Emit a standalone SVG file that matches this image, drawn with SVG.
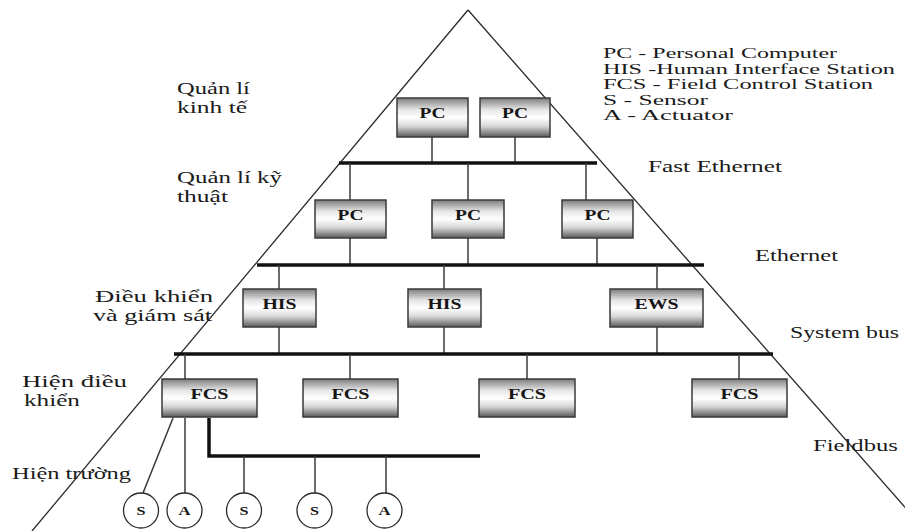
<svg xmlns="http://www.w3.org/2000/svg" width="905" height="531" viewBox="0 0 905 531">
<defs>
<linearGradient id="g" x1="0" y1="0" x2="0" y2="1">
<stop offset="0" stop-color="#7c7c7c"/>
<stop offset="0.3" stop-color="#e6e6e6"/>
<stop offset="0.5" stop-color="#ffffff"/>
<stop offset="0.72" stop-color="#d8d8d8"/>
<stop offset="1" stop-color="#5a5a5a"/>
</linearGradient>
<style>
.box{fill:url(#g);stroke:#3a3a3a;stroke-width:1.5}
.bt{font-family:"Liberation Serif","Times New Roman",serif;font-weight:bold;font-size:15.5px;fill:#151515;text-anchor:middle}
.lb{font-family:"Liberation Serif","Times New Roman",serif;font-size:17.5px;fill:#1a1a1a}
.lg{font-family:"Liberation Serif","Times New Roman",serif;font-size:15px;fill:#1a1a1a}
.bus{stroke:#111;stroke-width:3.5;fill:none}
.stem{stroke:#3a3a3a;stroke-width:1.5;fill:none}
.tri{stroke:#2a2a2a;stroke-width:1.3;fill:none}
.dev{fill:#fff;stroke:#2a2a2a;stroke-width:1.3}
.dt{font-family:"Liberation Serif","Times New Roman",serif;font-weight:bold;font-size:13px;fill:#151515;text-anchor:middle}
</style>
</defs>
<rect width="905" height="531" fill="#fff"/>

<g id="pyramid">
<line class="tri" x1="468" y1="10" x2="32" y2="531"/>
<line class="tri" x1="468" y1="10" x2="910" y2="513"/>
</g>

<g id="labels">
<text class="lb" transform="translate(177,94) scale(1.45,1)" textLength="50.3" lengthAdjust="spacingAndGlyphs">Quản lí</text>
<text class="lb" transform="translate(177,113) scale(1.45,1)" textLength="48.3" lengthAdjust="spacingAndGlyphs">kinh tế</text>
<text class="lb" transform="translate(177,183) scale(1.45,1)" textLength="72.4" lengthAdjust="spacingAndGlyphs">Quản lí kỹ</text>
<text class="lb" transform="translate(177,202) scale(1.45,1)" textLength="35.2" lengthAdjust="spacingAndGlyphs">thuật</text>
<text class="lb" transform="translate(95,302) scale(1.45,1)" textLength="81.4" lengthAdjust="spacingAndGlyphs">Điều khiển</text>
<text class="lb" transform="translate(93,321) scale(1.45,1)" textLength="82.1" lengthAdjust="spacingAndGlyphs">và giám sát</text>
<text class="lb" transform="translate(22,387) scale(1.45,1)" textLength="72.4" lengthAdjust="spacingAndGlyphs">Hiện điều</text>
<text class="lb" transform="translate(24,406) scale(1.45,1)" textLength="38.6" lengthAdjust="spacingAndGlyphs">khiển</text>
<text class="lb" transform="translate(12,479) scale(1.45,1)" textLength="82.1" lengthAdjust="spacingAndGlyphs">Hiện trường</text>
<text class="lb" transform="translate(648,172) scale(1.45,1)" textLength="92.4" lengthAdjust="spacingAndGlyphs">Fast Ethernet</text>
<text class="lb" transform="translate(755,261) scale(1.45,1)" textLength="57.2" lengthAdjust="spacingAndGlyphs">Ethernet</text>
<text class="lb" transform="translate(790,338) scale(1.45,1)" textLength="75.2" lengthAdjust="spacingAndGlyphs">System bus</text>
<text class="lb" transform="translate(813,451) scale(1.45,1)" textLength="58.6" lengthAdjust="spacingAndGlyphs">Fieldbus</text>
</g>

<g id="legend">
<text class="lg" transform="translate(603,58) scale(1.6,1)" textLength="146.3" lengthAdjust="spacingAndGlyphs">PC - Personal Computer</text>
<text class="lg" transform="translate(603,73.5) scale(1.6,1)" textLength="182.5" lengthAdjust="spacingAndGlyphs">HIS -Human Interface Station</text>
<text class="lg" transform="translate(603,89) scale(1.6,1)" textLength="168.8" lengthAdjust="spacingAndGlyphs">FCS - Field Control Station</text>
<text class="lg" transform="translate(603,104.5) scale(1.6,1)" textLength="65.6" lengthAdjust="spacingAndGlyphs">S - Sensor</text>
<text class="lg" transform="translate(603,120) scale(1.6,1)" textLength="81.3" lengthAdjust="spacingAndGlyphs">A - Actuator</text>
</g>

<g id="connectors">
<line class="stem" x1="432" y1="137" x2="432" y2="163"/>
<line class="stem" x1="515" y1="137" x2="515" y2="163"/>
<line class="bus" x1="339" y1="163" x2="597" y2="163"/>
<line class="stem" x1="350" y1="163" x2="350" y2="200"/>
<line class="stem" x1="468" y1="163" x2="468" y2="200"/>
<line class="stem" x1="586" y1="163" x2="586" y2="200"/>
<line class="stem" x1="350" y1="238" x2="350" y2="265"/>
<line class="stem" x1="468" y1="238" x2="468" y2="265"/>
<line class="stem" x1="597" y1="238" x2="597" y2="265"/>
<line class="bus" x1="257" y1="265" x2="704" y2="265"/>
<line class="stem" x1="279" y1="265" x2="279" y2="289"/>
<line class="stem" x1="444" y1="265" x2="444" y2="289"/>
<line class="stem" x1="657" y1="265" x2="657" y2="289"/>
<line class="stem" x1="279" y1="327" x2="279" y2="354"/>
<line class="stem" x1="444" y1="327" x2="444" y2="354"/>
<line class="stem" x1="657" y1="327" x2="657" y2="354"/>
<line class="bus" x1="174" y1="354" x2="773" y2="354"/>
<line class="stem" x1="185" y1="354" x2="185" y2="379"/>
<line class="stem" x1="350" y1="354" x2="350" y2="379"/>
<line class="stem" x1="527" y1="354" x2="527" y2="379"/>
<line class="stem" x1="739" y1="354" x2="739" y2="379"/>
<line class="stem" x1="173" y1="418" x2="143" y2="493"/>
<line class="stem" x1="185" y1="418" x2="185" y2="493"/>
<polyline class="bus" stroke-width="4" points="209,418 209,456 480,456"/>
<line class="stem" x1="244" y1="456" x2="244" y2="493"/>
<line class="stem" x1="315" y1="456" x2="315" y2="493"/>
<line class="stem" x1="386" y1="456" x2="386" y2="493"/>
</g>

<g id="pc1"><rect class="box" x="397" y="98" width="71" height="39"/><text class="bt" transform="translate(432.5,117.5) scale(1.33,1)" textLength="19.5" lengthAdjust="spacingAndGlyphs">PC</text></g>
<g id="pc2"><rect class="box" x="480" y="98" width="70" height="39"/><text class="bt" transform="translate(515,117.5) scale(1.33,1)" textLength="19.5" lengthAdjust="spacingAndGlyphs">PC</text></g>
<g id="pc3"><rect class="box" x="315" y="200" width="71" height="38"/><text class="bt" transform="translate(350.5,219.5) scale(1.33,1)" textLength="19.5" lengthAdjust="spacingAndGlyphs">PC</text></g>
<g id="pc4"><rect class="box" x="432" y="200" width="72" height="38"/><text class="bt" transform="translate(468,219.5) scale(1.33,1)" textLength="19.5" lengthAdjust="spacingAndGlyphs">PC</text></g>
<g id="pc5"><rect class="box" x="562" y="200" width="71" height="38"/><text class="bt" transform="translate(597.5,219.5) scale(1.33,1)" textLength="19.5" lengthAdjust="spacingAndGlyphs">PC</text></g>
<g id="his1"><rect class="box" x="243" y="289" width="73" height="38"/><text class="bt" transform="translate(279.5,308.5) scale(1.33,1)" textLength="25.6" lengthAdjust="spacingAndGlyphs">HIS</text></g>
<g id="his2"><rect class="box" x="408" y="289" width="73" height="38"/><text class="bt" transform="translate(444.5,308.5) scale(1.33,1)" textLength="25.6" lengthAdjust="spacingAndGlyphs">HIS</text></g>
<g id="ews"><rect class="box" x="610" y="289" width="93" height="38"/><text class="bt" transform="translate(656.5,308.5) scale(1.33,1)" textLength="33.1" lengthAdjust="spacingAndGlyphs">EWS</text></g>
<g id="fcs1"><rect class="box" x="162" y="379" width="95" height="38"/><text class="bt" transform="translate(209.5,399) scale(1.33,1)" textLength="28.6" lengthAdjust="spacingAndGlyphs">FCS</text></g>
<g id="fcs2"><rect class="box" x="303" y="379" width="95" height="38"/><text class="bt" transform="translate(350.5,399) scale(1.33,1)" textLength="28.6" lengthAdjust="spacingAndGlyphs">FCS</text></g>
<g id="fcs3"><rect class="box" x="479" y="379" width="96" height="38"/><text class="bt" transform="translate(527,399) scale(1.33,1)" textLength="28.6" lengthAdjust="spacingAndGlyphs">FCS</text></g>
<g id="fcs4"><rect class="box" x="692" y="379" width="95" height="38"/><text class="bt" transform="translate(739.5,399) scale(1.33,1)" textLength="28.6" lengthAdjust="spacingAndGlyphs">FCS</text></g>

<g id="s1"><circle class="dev" cx="141" cy="510.5" r="17.5"/><text class="dt" transform="translate(141,515) scale(1.25,1)" textLength="7.2" lengthAdjust="spacingAndGlyphs">S</text></g>
<g id="a1"><circle class="dev" cx="184.5" cy="510.5" r="17.5"/><text class="dt" transform="translate(184.5,515) scale(1.25,1)" textLength="9.6" lengthAdjust="spacingAndGlyphs">A</text></g>
<g id="s2"><circle class="dev" cx="244" cy="510.5" r="17.5"/><text class="dt" transform="translate(244,515) scale(1.25,1)" textLength="7.2" lengthAdjust="spacingAndGlyphs">S</text></g>
<g id="s3"><circle class="dev" cx="314.5" cy="510.5" r="17.5"/><text class="dt" transform="translate(314.5,515) scale(1.25,1)" textLength="7.2" lengthAdjust="spacingAndGlyphs">S</text></g>
<g id="a2"><circle class="dev" cx="384.5" cy="510.5" r="17.5"/><text class="dt" transform="translate(384.5,515) scale(1.25,1)" textLength="9.6" lengthAdjust="spacingAndGlyphs">A</text></g>
</svg>
